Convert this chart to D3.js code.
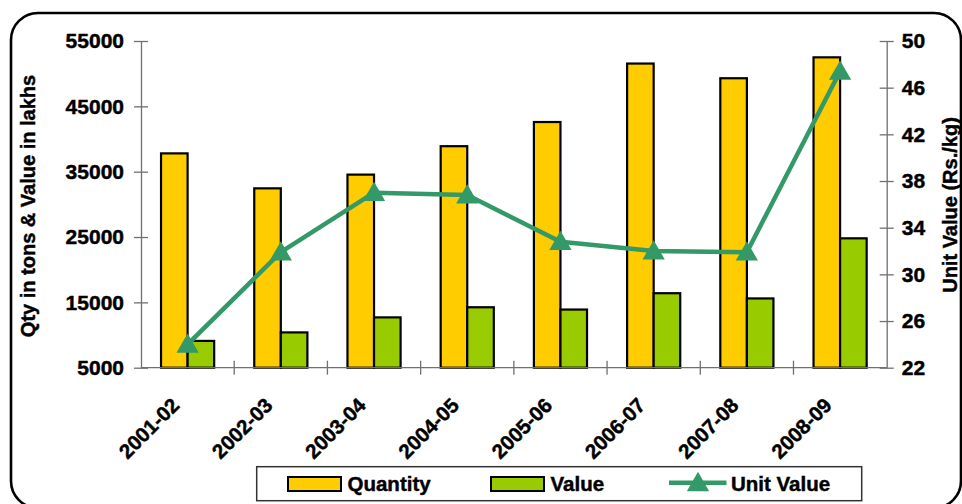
<!DOCTYPE html>
<html>
<head>
<meta charset="utf-8">
<script src="https://cdn.jsdelivr.net/npm/d3@7/dist/d3.min.js"></script>
<style>
  html, body { margin: 0; padding: 0; background: #fff; }
  svg { display: block; }
  text { font-family: "Liberation Sans", Arial, sans-serif; font-weight: bold; fill: #000;
         stroke: #000; stroke-width: 0.45px; }
</style>
</head>
<body>
<svg id="chart" width="962" height="504"></svg>
<script>
// Export of the item: quantity, value and unit value by financial year
const years = ["2001-02", "2002-03", "2003-04", "2004-05", "2005-06", "2006-07", "2007-08", "2008-09"];
const quantity = [37800, 32450, 34550, 38900, 42600, 51550, 49300, 52500];
const value = [9100, 10400, 12700, 14250, 13900, 16400, 15600, 24800];
const unitValue = [24.0, 31.9, 37.0, 36.8, 32.8, 32.0, 31.9, 47.4];
const leftTicks = [5000, 15000, 25000, 35000, 45000, 55000];
const rightTicks = [22, 26, 30, 34, 38, 42, 46, 50];
const seriesNames = ["Quantity", "Value", "Unit Value"];

const colors = { Quantity: "#FFCC00", Value: "#99CC00", "Unit Value": "#339966" };
const axisColor = "#707070";

const svg = d3.select("#chart");

// Rounded frame around the whole chart
svg.append("rect")
  .attr("x", 11).attr("y", 13)
  .attr("width", 950).attr("height", 495)
  .attr("rx", 27).attr("ry", 27)
  .attr("fill", "#fff")
  .attr("stroke", "#000").attr("stroke-width", 2.6);

const plot = { left: 141, right: 886.7, top: 41, bottom: 367.7 };

const x0 = d3.scaleBand().domain(years).range([plot.left, plot.right]).padding(0);
const bw = x0.bandwidth();
const x1 = d3.scaleBand().domain(["Quantity", "Value"])
  .range([bw * 0.215, bw * 0.785]).padding(0);

const yL = d3.scaleLinear().domain([5000, 55000]).range([plot.bottom, plot.top]);
const yR = d3.scaleLinear().domain([22, 50]).range([plot.bottom, plot.top]);

// Bars
const groups = svg.append("g").selectAll("g")
  .data(years.map((y, i) => ({ year: y, Quantity: quantity[i], Value: value[i] })))
  .join("g")
  .attr("transform", d => `translate(${x0(d.year)},0)`);

groups.selectAll("rect")
  .data(d => ["Quantity", "Value"].map(k => ({ key: k, v: d[k] })))
  .join("rect")
  .attr("x", d => x1(d.key))
  .attr("y", d => yL(d.v))
  .attr("width", x1.bandwidth())
  .attr("height", d => yL(5000) - yL(d.v))
  .attr("fill", d => colors[d.key])
  .attr("stroke", "#000")
  .attr("stroke-width", 2.2);

// Left axis (crossing ticks)
const gL = svg.append("g")
  .attr("transform", `translate(${plot.left},0)`)
  .call(d3.axisLeft(yL).tickValues(leftTicks).tickFormat(d3.format("d"))
    .tickSize(7).tickPadding(10).tickSizeOuter(0));
gL.select(".domain").attr("stroke", axisColor).attr("stroke-width", 1.3);
gL.selectAll(".tick line").attr("x1", 7).attr("x2", -7).attr("stroke", axisColor).attr("stroke-width", 1.3);
gL.selectAll(".tick text").style("font-size", "21px");
gL.attr("font-family", null);

// Right axis (crossing ticks)
const gR = svg.append("g")
  .attr("transform", `translate(${plot.right},0)`)
  .call(d3.axisRight(yR).tickValues(rightTicks).tickFormat(d3.format("d"))
    .tickSize(7).tickPadding(8).tickSizeOuter(0));
gR.select(".domain").attr("stroke", axisColor).attr("stroke-width", 1.3);
gR.selectAll(".tick line").attr("x1", -7).attr("x2", 7).attr("stroke", axisColor).attr("stroke-width", 1.3);
gR.selectAll(".tick text").style("font-size", "21px");
gR.attr("font-family", null);

// Category axis with ticks between categories
const gB = svg.append("g");
gB.append("line")
  .attr("x1", plot.left).attr("x2", plot.right)
  .attr("y1", plot.bottom).attr("y2", plot.bottom)
  .attr("stroke", axisColor).attr("stroke-width", 1.3);
gB.selectAll("line.tick")
  .data(years.slice(1))
  .join("line")
  .attr("class", "tick")
  .attr("x1", d => x0(d)).attr("x2", d => x0(d))
  .attr("y1", plot.bottom - 7).attr("y2", plot.bottom + 7)
  .attr("stroke", axisColor).attr("stroke-width", 1.3);
gB.selectAll("text")
  .data(years)
  .join("text")
  .attr("text-anchor", "end")
  .attr("transform", d => `translate(${x0(d) + bw / 2 - 7},${plot.bottom + 39}) rotate(-45)`)
  .style("font-size", "20.5px")
  .text(d => d);

// Unit value line with triangle markers
const line = d3.line()
  .x((d, i) => x0(years[i]) + bw / 2)
  .y(d => yR(d));
svg.append("path")
  .datum(unitValue)
  .attr("d", line)
  .attr("fill", "none")
  .attr("stroke", colors["Unit Value"])
  .attr("stroke-width", 4.5)
  .attr("stroke-linejoin", "round");

const tri = d3.symbol().type(d3.symbolTriangle).size(215);
function triangleAt(sel, cx, cy) {
  sel.append("path")
    .attr("d", tri())
    .attr("transform", `translate(${cx},${cy + 2})`)
    .attr("fill", colors["Unit Value"]);
}
unitValue.forEach((v, i) => triangleAt(svg, x0(years[i]) + bw / 2, yR(v)));

// Axis titles
svg.append("text")
  .attr("transform", `translate(34.5,206) rotate(-90)`)
  .attr("text-anchor", "middle")
  .style("font-size", "20px")
  .text("Qty in tons & Value in lakhs");
svg.append("text")
  .attr("transform", `translate(956.5,205) rotate(-90)`)
  .attr("text-anchor", "middle")
  .style("font-size", "20px")
  .text("Unit Value (Rs./kg)");

// Legend
const lg = svg.append("g");
lg.append("rect")
  .attr("x", 256.7).attr("y", 466.7)
  .attr("width", 605).attr("height", 34)
  .attr("fill", "#fff").attr("stroke", "#333").attr("stroke-width", 1.5);

const legendX = { Quantity: 288, Value: 491, "Unit Value": 669 };
["Quantity", "Value"].forEach(k => {
  lg.append("rect")
    .attr("x", legendX[k]).attr("y", 477)
    .attr("width", 53).attr("height", 14)
    .attr("fill", colors[k]).attr("stroke", "#000").attr("stroke-width", 2);
  lg.append("text")
    .attr("x", legendX[k] + 59.5).attr("y", 491)
    .style("font-size", "20.5px")
    .text(k);
});
lg.append("line")
  .attr("x1", legendX["Unit Value"]).attr("x2", legendX["Unit Value"] + 57.5)
  .attr("y1", 482.7).attr("y2", 482.7)
  .attr("stroke", colors["Unit Value"]).attr("stroke-width", 4.5);
triangleAt(lg, legendX["Unit Value"] + 29, 482.7);
lg.append("text")
  .attr("x", legendX["Unit Value"] + 62).attr("y", 491)
  .style("font-size", "20.5px")
  .text(seriesNames[2]);
</script>
</body>
</html>
